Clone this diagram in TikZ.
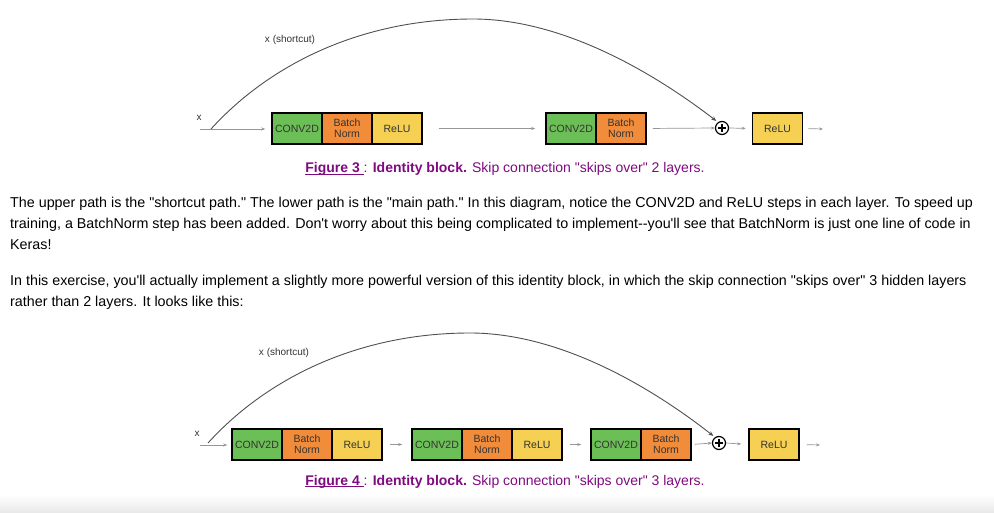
\documentclass[tikz,border=0pt]{standalone}
\usepackage{fontspec}
\setmainfont{Liberation Sans}[Ligatures=TeXOff]
\usetikzlibrary{arrows.meta,calc}
\newcommand\myul[1]{\setbox0\hbox{#1}\rlap{\rule[-2.3pt]{\wd0}{1pt}}\box0}
\definecolor{cgreen}{RGB}{108,190,86}
\definecolor{corange}{RGB}{240,140,58}
\definecolor{cyellow}{RGB}{245,208,82}
\definecolor{ctext}{RGB}{51,51,51}
\definecolor{cline}{RGB}{150,150,150}
\definecolor{carc}{RGB}{80,80,80}
\definecolor{cpurple}{RGB}{128,10,128}
\begin{document}
\begin{tikzpicture}[x=1pt,y=-1pt,
  blk/.style={draw=black,line width=1.5pt,minimum width=50pt,minimum height=31pt,inner sep=0pt,
    font=\fontsize{10.5}{11}\selectfont,text=ctext,align=center},
  convbox/.style={blk,fill=cgreen},
  bnbox/.style={blk,fill=corange},
  relubox/.style={blk,fill=cyellow},
  plusnode/.style={circle,draw=black,line width=1.2pt,minimum size=13pt,inner sep=0pt},
  flowline/.style={draw=cline,line width=0.7pt,-{Stealth[length=4pt,width=3pt]}},
  skiparc/.style={draw=carc,line width=0.9pt,-{Stealth[length=5pt,width=4pt]},shorten >=2pt},
  lbltext/.style={font=\fontsize{10}{11}\selectfont,text=ctext,inner sep=0pt},
  paratext/.style={anchor=base west,font=\fontsize{14.3}{16}\selectfont,inner sep=0pt},
  figcap/.style={anchor=base,font=\fontsize{14}{16}\selectfont,text=cpurple,inner sep=0pt}]
\useasboundingbox[fill=white] (0,0) rectangle (994,513);
\shade[top color=white,bottom color=black!9] (0,494) rectangle (994,513);

% ---------- Figure 3 ----------
\node[lbltext] (x3) at (199,118) {x};
\coordinate (in3) at (200,129);
\node[convbox] (c31) at (297,128.5) {CONV2D};
\node[bnbox]   (b31) at (347,128.5) {Batch\\Norm};
\node[relubox] (r31) at (397,128.5) {ReLU};
\node[convbox] (c32) at (571,128.5) {CONV2D};
\node[bnbox]   (b32) at (621,128.5) {Batch\\Norm};
\node[plusnode] (p3) at (722,128) {};
\draw[line width=1.2pt] ($(p3)+(-4,0)$) -- ($(p3)+(4,0)$) ($(p3)+(0,-4)$) -- ($(p3)+(0,4)$);
\node[relubox] (r3) at (777.5,128.5) {ReLU};
\coordinate (out3) at (823,129);
\coordinate (s3) at (211,129);
\coordinate (top3) at (473,19);
\node[lbltext] (sc3) at (290,40) {x (shortcut)};

\draw[flowline,shorten >=6pt] (in3) -- (c31.west|-in3);
\draw[flowline,shorten <=16pt,shorten >=10pt] (r31.east) -- (c32.west);
\draw[flowline,shorten <=6pt] (b32.east) -- (p3.west);
\draw[flowline,shorten >=6pt] (p3.east) -- (r3.west);
\draw[flowline,shorten <=5pt] (r3.east) -- (out3);
\draw[skiparc] (s3) .. controls (271,63) and (363,19) .. (top3)
  .. controls (563,19) and (654,73) .. (p3.125);

\node[figcap] (cap3) at (505,173) {\textbf{\myul{Figure 3 }}: \textbf{Identity block.} Skip connection "skips over" 2 layers.};

% ---------- text ----------
\node[paratext] (l1) at (10,208) {The upper path is the "shortcut path." The lower path is the "main path." In this diagram, notice the CONV2D and ReLU steps in each layer. To speed up};
\node[paratext] (l2) at (10,229) {training, a BatchNorm step has been added. Don't worry about this being complicated to implement--you'll see that BatchNorm is just one line of code in};
\node[paratext] (l3) at (10,250) {Keras!};
\node[paratext] (l4) at (10,286) {In this exercise, you'll actually implement a slightly more powerful version of this identity block, in which the skip connection "skips over" 3 hidden layers};
\node[paratext] (l5) at (10,307) {rather than 2 layers. It looks like this:};

% ---------- Figure 4 ----------
\node[lbltext] (x4) at (197,434) {x};
\coordinate (in4) at (200,445);
\node[convbox] (cA) at (257,444.5) {CONV2D};
\node[bnbox]   (bA) at (307,444.5) {Batch\\Norm};
\node[relubox] (rA) at (357,444.5) {ReLU};
\node[convbox] (cB) at (437,444.5) {CONV2D};
\node[bnbox]   (bB) at (487,444.5) {Batch\\Norm};
\node[relubox] (rB) at (537,444.5) {ReLU};
\node[convbox] (cC) at (616,444.5) {CONV2D};
\node[bnbox]   (bC) at (666,444.5) {Batch\\Norm};
\node[plusnode] (p4) at (719,443) {};
\draw[line width=1.2pt] ($(p4)+(-4,0)$) -- ($(p4)+(4,0)$) ($(p4)+(0,-4)$) -- ($(p4)+(0,4)$);
\node[relubox] (r4) at (774,444.5) {ReLU};
\coordinate (out4) at (820,445);
\coordinate (s4) at (208,443);
\coordinate (top4) at (470,333);
\node[lbltext] (sc4) at (284,353) {x (shortcut)};

\draw[flowline,shorten >=4pt] (in4) -- (cA.west|-in4);
\draw[flowline,shorten <=7pt,shorten >=9pt] (rA.east) -- (cB.west);
\draw[flowline,shorten <=7pt,shorten >=9pt] (rB.east) -- (cC.west);
\draw[flowline,shorten <=3pt] (bC.east) -- (p4.west);
\draw[flowline,shorten >=7pt] (p4.east) -- (r4.west);
\draw[flowline,shorten <=7pt] (r4.east) -- (out4);
\draw[skiparc] (s4) .. controls (268,377) and (360,333) .. (top4)
  .. controls (560,333) and (651,387) .. (p4.125);

\node[figcap] (cap4) at (505,485) {\textbf{\myul{Figure 4 }}: \textbf{Identity block.} Skip connection "skips over" 3 layers.};
\end{tikzpicture}
\end{document}
